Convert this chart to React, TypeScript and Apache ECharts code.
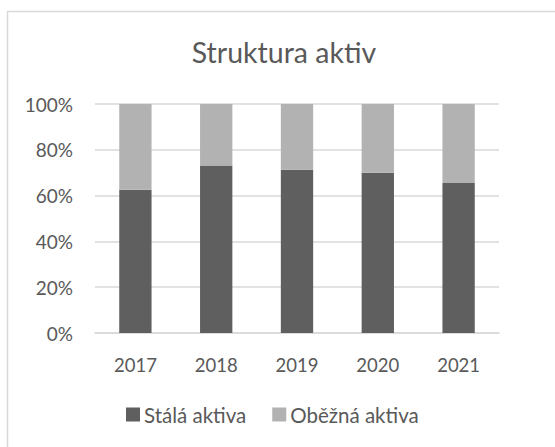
import React, { useEffect, useRef } from "react";
import * as echarts from "echarts";

const years = ["2017", "2018", "2019", "2020", "2021"];
const stalaAktiva = [62.6, 73.1, 71.3, 70.0, 65.5];
const obeznaAktiva = [37.4, 26.9, 28.7, 30.0, 34.5];
const yTicks = [0, 20, 40, 60, 80, 100];

const FONT = "Lato, 'Open Sans', sans-serif";
const TEXT = "#595959";

export default function App() {
  const ref = useRef<HTMLDivElement>(null);
  useEffect(() => {
    if (!ref.current) return;
    const chart = echarts.init(ref.current, null, { renderer: "svg" });
    chart.setOption({
      animation: false,
      backgroundColor: "#ffffff",
      textStyle: { fontFamily: FONT },
      graphic: [
        {
          type: "rect",
          shape: { x: 7.5, y: 11.5, width: 700, height: 600 },
          style: { fill: "none", stroke: "#d9d9d9", lineWidth: 1.5 },
          silent: true,
          z: -1,
        },
        {
          type: "text",
          x: 284,
          y: 52,
          style: {
            text: "Struktura aktiv",
            align: "center",
            verticalAlign: "middle",
            font: `28.5px ${FONT}`,
            fill: TEXT,
          },
        },
      ],
      legend: {
        left: 121,
        top: 399,
        itemWidth: 14,
        itemHeight: 14,
        itemGap: 26,
        itemStyle: { borderWidth: 0 },
        icon: "rect",
        textStyle: { fontSize: 20.5, color: TEXT, fontFamily: FONT, padding: [0, 0, 0, -1] },
        data: ["Stálá aktiva", "Oběžná aktiva"],
      },
      grid: { left: 95, right: 56, top: 104, bottom: 114, containLabel: false },
      xAxis: {
        type: "category",
        data: years,
        axisLine: { lineStyle: { color: "#d9d9d9", width: 1.5 } },
        axisTick: { show: false },
        axisLabel: { color: TEXT, fontSize: 18.5, margin: 22, fontFamily: FONT },
      },
      yAxis: {
        type: "value",
        min: 0,
        max: 100,
        interval: 20,
        axisLine: { show: false },
        axisTick: { show: false },
        splitLine: { lineStyle: { color: "#d9d9d9", width: 1.5 } },
        axisLabel: {
          color: TEXT,
          fontSize: 19,
          margin: 22,
          fontFamily: FONT,
          formatter: (v: number) => (yTicks.includes(v) ? `${v}%` : ""),
        },
      },
      series: [
        {
          name: "Stálá aktiva",
          type: "bar",
          stack: "total",
          data: stalaAktiva,
          barWidth: "40%",
          itemStyle: { color: "#5f5f5f" },
        },
        {
          name: "Oběžná aktiva",
          type: "bar",
          stack: "total",
          data: obeznaAktiva,
          barWidth: "40%",
          itemStyle: { color: "#b2b2b2" },
        },
      ],
    });
    return () => chart.dispose();
  }, []);
  return (
    <div
      ref={ref}
      style={{ position: "absolute", left: 0, top: 0, width: 555, height: 447 }}
    />
  );
}
